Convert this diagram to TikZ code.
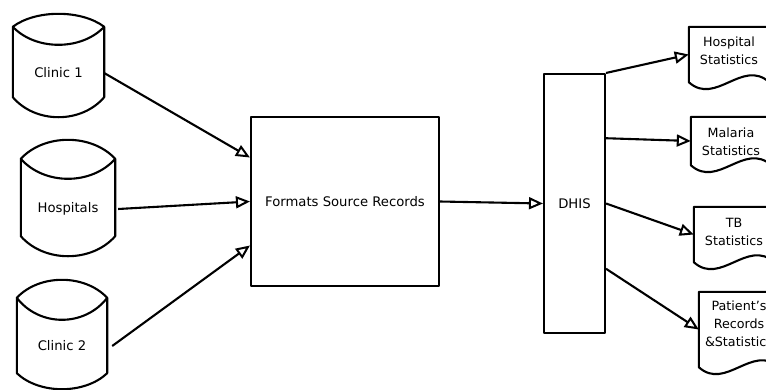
\documentclass[tikz,border=0pt]{standalone}
\usepackage{fontspec}
\setmainfont{DejaVu Sans}
\usetikzlibrary{arrows.meta,calc}
\tikzset{
  ln/.style={line width=2.1pt, black, line join=round},
  arr/.style={ln, -{Triangle[open, length=14pt, width=12pt, line width=2pt]}},
  cylbox/.style={draw=none, inner sep=0pt, minimum width=#1},
  docbox/.style={draw=none, inner sep=0pt, minimum width=80pt},
  proc/.style={ln, draw, inner sep=0pt, fill=white},
  maintxt/.style={font=\fontsize{13.2}{16}\selectfont},
  doctxt/.style={font=\fontsize{12.7}{18}\selectfont, align=center},
}
\newcommand\cylout[5]{%
  \draw[ln] (#1.north west) .. controls +(0.25*#2,-4/3*#3) and +(-0.25*#2,-4/3*#3) .. (#1.north east)
    -- (#1.south east) .. controls +(-0.25*#2,4/3*#5) and +(0.25*#2,4/3*#5) .. (#1.south west) -- cycle;
  \draw[ln] (#1.north west) .. controls +(0.25*#2,4/3*#4) and +(-0.25*#2,4/3*#4) .. (#1.north east);
}
\newcommand\docout[1]{%
  \draw[ln] (#1.south west) -- (#1.north west) -- (#1.north east) -- (#1.south east)
    .. controls +(-80/3,-24) and +(80/3,24) .. (#1.south west) -- cycle;
}
\begin{document}
\begin{tikzpicture}[x=1pt,y=-1pt]
\useasboundingbox (0,0) rectangle (766,389);
\clip (0,0) rectangle (766,389);
% cylinders
\node[cylbox=91pt, minimum height=70pt, label={[name=c1t, maintxt, yshift=-11pt]center:Clinic 1}] (c1) at (58.5,62) {};
\node[cylbox=94pt, minimum height=77pt, label={[name=hot, maintxt, yshift=-11.5pt]center:Hospitals}] (ho) at (68,197.5) {};
\node[cylbox=90pt, minimum height=75pt, label={[name=c2t, maintxt, yshift=-10.5pt]center:Clinic 2}] (c2) at (62,335.5) {};
\cylout{c1}{91}{13}{18}{20}
\cylout{ho}{94}{19}{20}{20}
\cylout{c2}{90}{18}{22}{16}
% process boxes
\node[proc, maintxt, minimum width=188pt, minimum height=169pt] (f) at (345,201.5) {Formats Source Records};
\node[proc, maintxt, minimum width=61pt, minimum height=259pt] (d) at (574.5,203.5) {DHIS};
% documents
\node[docbox, minimum height=55pt, label={[doctxt, yshift=3.5pt]center:Hospital\\Statistics}] (h) at (729,54.5) {};
\node[docbox, minimum height=48pt, label={[doctxt, yshift=-1pt]center:Malaria\\Statistics}] (m) at (731,141) {};
\node[docbox, minimum height=55pt, label={[doctxt, yshift=3pt]center:TB\\Statistics}] (t) at (734,234.5) {};
\node[docbox, minimum height=75pt, label={[doctxt, yshift=5.5pt]center:Patient's\\Records\\\&Statistics}] (p) at (739,329.5) {};
\docout{h}
\docout{m}
\docout{t}
\docout{p}
% connectors
\draw[arr] (c1.east |- c1t) -- ([yshift=44pt]f.west);
\draw[arr] ([xshift=3pt]ho.east |- hot) -- (f.west);
\draw[arr] ([xshift=5pt]c2.east |- c2t) -- ([yshift=-44pt]f.west);
\draw[arr] (f.east) -- (d.west);
\draw[arr] (d.north east) -- (h.west);
\draw[arr] ($(d.north east)!0.25!(d.south east)$) -- (m.west);
\draw[arr] ($(d.north east)!0.5!(d.south east)$) -- (t.west);
\draw[arr] ($(d.north east)!0.75!(d.south east)$) -- (p.west);
\end{tikzpicture}
\end{document}
